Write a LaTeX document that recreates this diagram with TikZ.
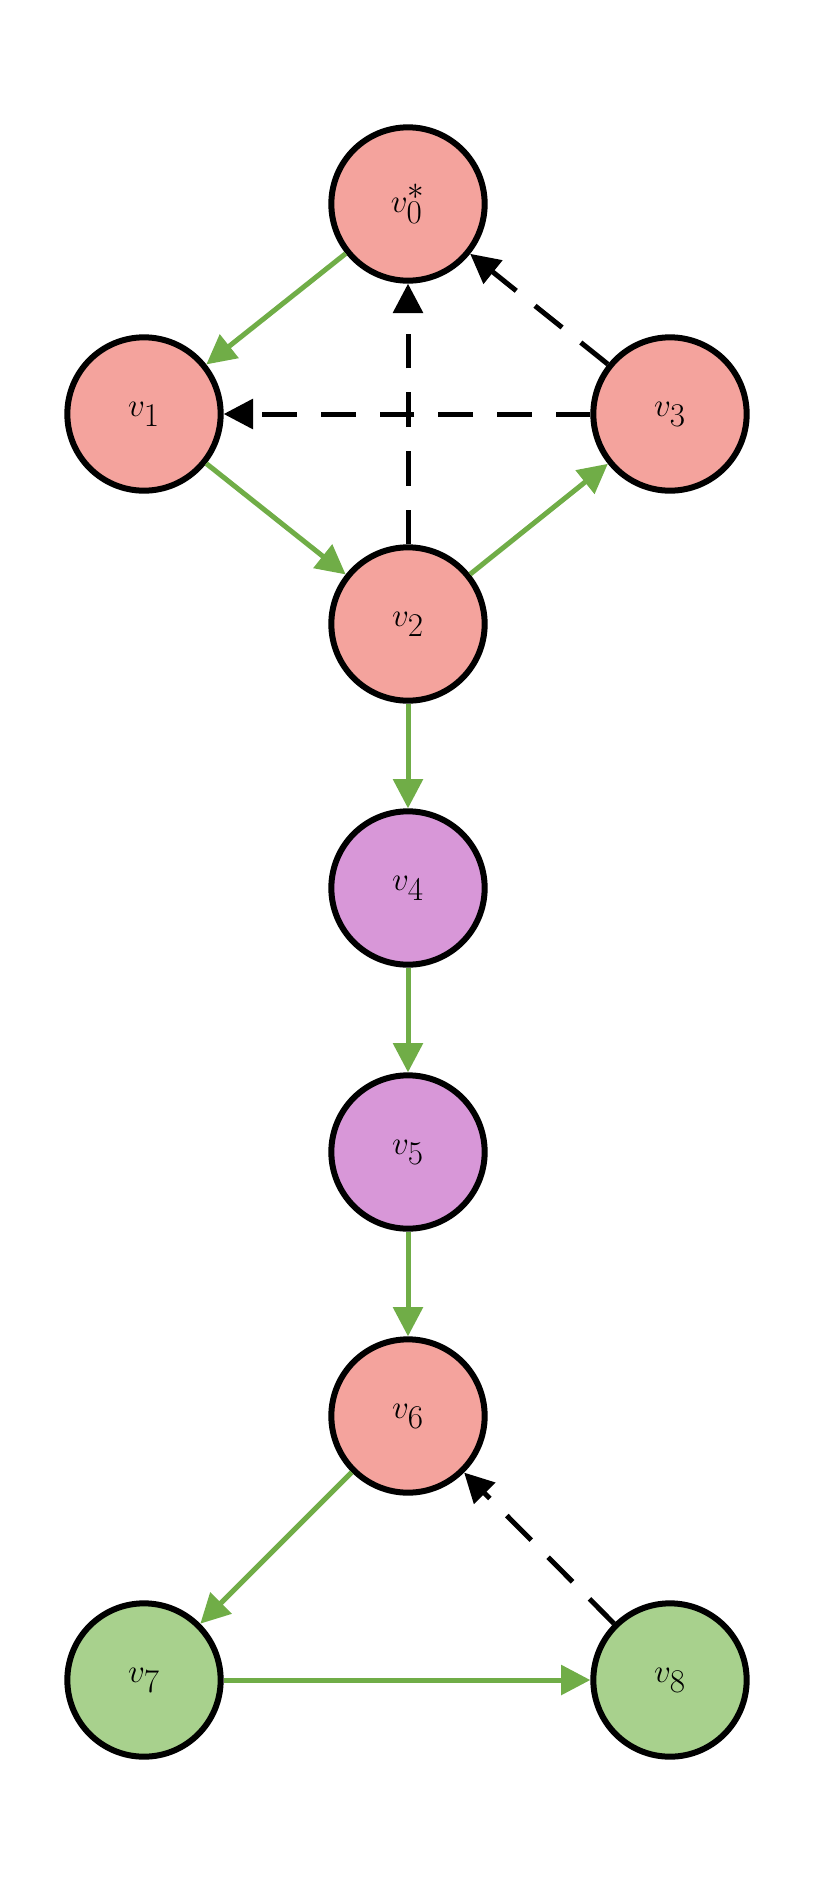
\documentclass[tikz,border=0pt]{standalone}
\usetikzlibrary{arrows.meta}
\definecolor{pk}{HTML}{F4A39D}
\definecolor{pu}{HTML}{D897D8}
\definecolor{gn}{HTML}{A8D18D}
\definecolor{eg}{HTML}{70AD47}
\begin{document}
\begin{tikzpicture}[x=0.75pt,y=-0.75pt,
  vtx/.style={circle,draw=black,line width=4.5pt,minimum size=115pt,inner sep=0pt,font=\fontsize{60}{70}\selectfont},
  ge/.style={draw=eg,line width=3.75pt,-{Triangle[length=22pt,width=22pt]}},
  de/.style={draw=black,line width=3.75pt,dash pattern=on 26pt off 18pt,-{Triangle[length=22pt,width=22pt]}}]
\useasboundingbox (0,0) rectangle (829,1889);
\node[vtx,fill=pk] (v0) at (408,204) {$v_0^*$};
\node[vtx,fill=pk] (v1) at (144,414) {$v_1$};
\node[vtx,fill=pk] (v3) at (670,414) {$v_3$};
\node[vtx,fill=pk] (v2) at (408,624) {$v_2$};
\node[vtx,fill=pu] (v4) at (408,888) {$v_4$};
\node[vtx,fill=pu] (v5) at (408,1152) {$v_5$};
\node[vtx,fill=pk] (v6) at (408,1416) {$v_6$};
\node[vtx,fill=gn] (v7) at (144,1680) {$v_7$};
\node[vtx,fill=gn] (v8) at (670,1680) {$v_8$};
\draw[ge] (v0) -- (v1);
\draw[ge] (v1) -- (v2);
\draw[ge] (v2) -- (v3);
\draw[ge] (v2) -- (v4);
\draw[ge] (v4) -- (v5);
\draw[ge] (v5) -- (v6);
\draw[ge] (v6) -- (v7);
\draw[ge] (v7) -- (v8);
\draw[de] (v3) -- (v0);
\draw[de] (v3) -- (v1);
\draw[de] (v2) -- (v0);
\draw[de] (v8) -- (v6);
\end{tikzpicture}
\end{document}
